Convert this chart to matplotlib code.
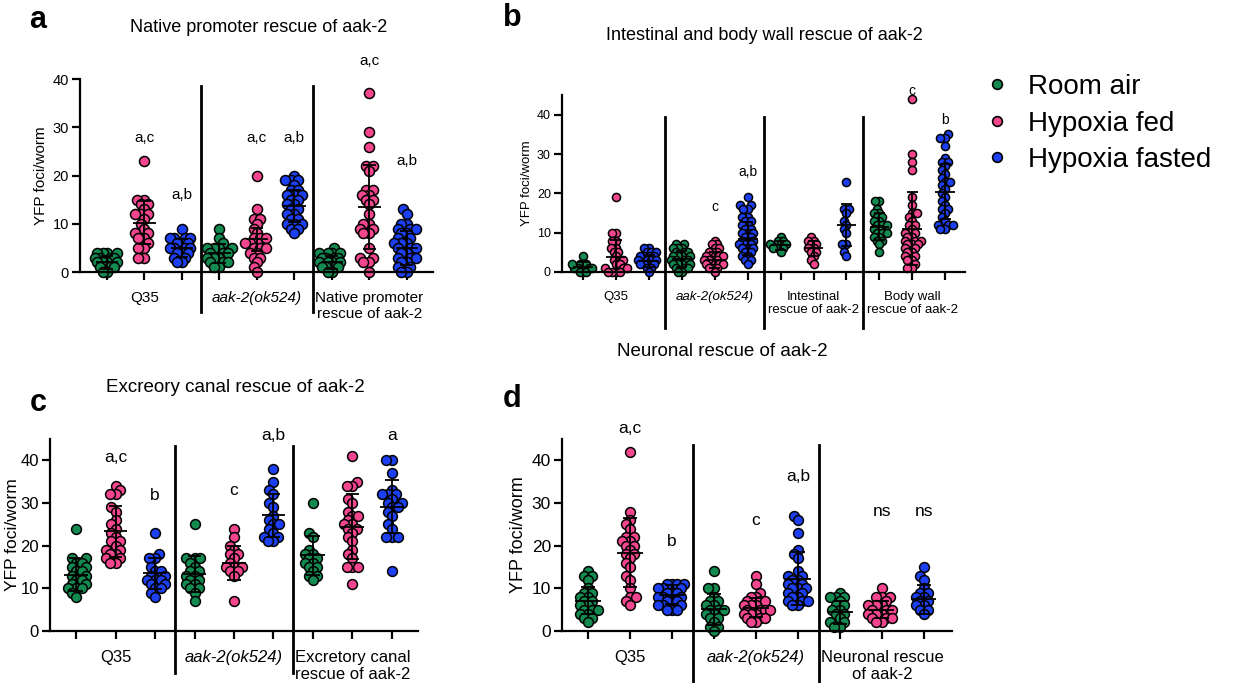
import numpy as np
import matplotlib
matplotlib.use("Agg")
import matplotlib.pyplot as plt
from matplotlib.lines import Line2D

plt.rcParams["font.family"] = ["Liberation Sans", "DejaVu Sans"]

GREEN, PINK, BLUE = "#128a50", "#f4468f", "#1c3ff2"
CONDITIONS = ["Room air", "Hypoxia fed", "Hypoxia fasted"]

# ── Panel a: native promoter rescue ───────────────────────────────────────────
A_TITLE = "Native promoter rescue of aak-2"
A_STRAINS = ["Q35", "aak-2(ok524)", "Native promoter\nrescue of aak-2"]
A_ROOM = [
    [4, 4, 4, 4, 3, 3, 3, 3, 2, 2, 2, 2, 1, 1, 1, 0, 0],
    [9, 7, 6, 5, 5, 5, 5, 4, 4, 4, 3, 3, 3, 2, 2, 1, 1, 2],
    [5, 4, 4, 4, 4, 3, 3, 3, 3, 2, 2, 2, 2, 1, 1, 1, 1, 0, 0],
]
A_FED = [
    [23, 15, 15, 14, 14, 13, 12, 12, 12, 11, 10, 9, 8, 8, 7, 7, 6, 5, 5, 3, 3],
    [20, 13, 11, 11, 10, 9, 8, 7, 7, 7, 6, 6, 6, 5, 5, 5, 4, 4, 3, 3, 2, 1, 0],
    [37, 29, 26, 22, 22, 21, 17, 17, 16, 16, 15, 15, 14, 12, 10, 10, 9, 9, 8, 8, 5, 3, 3, 2, 2, 0],
]
A_FASTED = [
    [9, 7, 7, 7, 7, 6, 6, 6, 5, 5, 5, 5, 4, 4, 4, 3, 3, 2, 2],
    [20, 19, 19, 19, 18, 17, 17, 16, 16, 16, 15, 15, 14, 14, 13, 13, 12, 12, 11, 11, 10, 10, 10, 9, 9, 8],
    [13, 12, 10, 10, 9, 9, 9, 8, 8, 7, 7, 6, 6, 6, 5, 5, 5, 4, 4, 3, 3, 3, 2, 2, 1, 1, 0, 0],
]
A_MEAN = [2.0, 10.2, 5.0, 3.9, 6.8, 13.7, 2.0, 13.5, 5.0]
A_SD = [1.3, 4.5, 1.8, 2.0, 2.4, 3.3, 1.3, 8.7, 3.5]
A_LETTERS = ["", "a,c", "a,b", "", "a,c", "a,b", "", "a,c", "a,b"]

# ── Panel b: intestinal and body wall rescue ──────────────────────────────────
B_TITLE = "Intestinal and body wall rescue of aak-2"
B_STRAINS = ["Q35", "aak-2(ok524)", "Intestinal\nrescue of aak-2", "Body wall\nrescue of aak-2"]
B_ROOM = [
    [4, 2, 2, 2, 1, 1, 1, 0, 0, 0, 1, 2],
    [7, 7, 6, 6, 6, 5, 5, 5, 4, 4, 4, 4, 3, 3, 3, 3, 2, 2, 2, 2, 1, 1, 1, 0, 0],
    [9, 8, 8, 7, 7, 7, 6, 6, 6, 5],
    [18, 18, 16, 15, 15, 14, 14, 13, 13, 12, 12, 12, 11, 11, 10, 10, 10, 9, 9, 8, 8, 7, 5],
]
B_FED = [
    [19, 10, 10, 8, 8, 6, 6, 5, 5, 4, 3, 3, 2, 2, 1, 1, 0, 0, 0, 0, 1],
    [8, 7, 7, 6, 6, 5, 5, 5, 4, 4, 4, 4, 3, 3, 3, 3, 2, 2, 2, 2, 1, 1, 1, 0],
    [9, 8, 8, 7, 7, 6, 6, 5, 5, 4, 3, 2],
    [44, 30, 28, 26, 19, 17, 15, 15, 14, 13, 12, 12, 11, 10, 10, 9, 9, 8, 8, 8, 7, 7, 7,
     6, 6, 5, 5, 4, 4, 3, 3, 2, 1, 1],
]
B_FASTED = [
    [6, 6, 5, 5, 5, 4, 4, 4, 4, 3, 3, 3, 3, 2, 2, 2, 2, 1, 1, 0],
    [19, 17, 17, 16, 16, 14, 14, 13, 13, 12, 12, 11, 11, 10, 10, 10, 9, 9, 8, 8, 8, 7, 7, 7,
     6, 6, 6, 5, 5, 4, 4, 3, 3, 2],
    [23, 16, 16, 15, 13, 12, 11, 10, 7, 7, 5, 4],
    [35, 34, 34, 32, 29, 28, 28, 27, 26, 25, 24, 23, 23, 22, 21, 20, 19, 18, 17, 16, 16, 15,
     14, 13, 12, 12, 12, 11, 11],
]
B_MEAN = [1.3, 3.8, 2.8, 3.3, 3.1, 8.5, 6.8, 6.0, 11.9, 11.5, 11.0, 20.4]
B_SD = [1.2, 4.3, 1.6, 2.0, 2.0, 4.2, 1.1, 2.0, 5.4, 3.4, 9.3, 7.0]
B_LETTERS = ["", "", "", "", "c", "a,b", "", "", "", "", "c", "b"]

# ── Panel c: excretory canal rescue ───────────────────────────────────────────
C_TITLE = "Excreory canal rescue of aak-2"
C_STRAINS = ["Q35", "aak-2(ok524)", "Excretory canal\nrescue of aak-2"]
C_ROOM = [
    [24, 17, 17, 16, 16, 15, 15, 14, 14, 13, 13, 12, 12, 11, 11, 10, 10, 10, 9, 8],
    [25, 17, 17, 17, 16, 15, 14, 14, 13, 13, 12, 12, 11, 11, 10, 10, 9, 7],
    [30, 23, 22, 19, 18, 18, 17, 17, 16, 16, 15, 15, 14, 13, 13, 12],
]
C_FED = [
    [34, 33, 32, 32, 29, 28, 26, 25, 24, 23, 22, 21, 21, 20, 19, 19, 18, 18, 17, 17, 16, 16],
    [24, 22, 20, 19, 18, 18, 17, 16, 15, 15, 15, 14, 14, 13, 7],
    [41, 35, 34, 34, 31, 30, 28, 27, 27, 26, 25, 25, 24, 24, 23, 22, 21, 19, 18, 17, 15, 15, 15, 11],
]
C_FASTED = [
    [23, 18, 17, 17, 15, 14, 14, 13, 13, 12, 12, 12, 11, 11, 10, 10, 9, 8],
    [38, 35, 33, 32, 30, 29, 27, 26, 25, 25, 24, 23, 22, 22, 21, 21],
    [40, 40, 37, 33, 32, 32, 32, 31, 30, 30, 29, 29, 28, 27, 25, 24, 22, 22, 22, 14],
]
C_MEAN = [13.2, 23.4, 13.5, 13.3, 16.0, 27.1, 17.7, 24.4, 29.1]
C_SD = [3.9, 6.0, 3.6, 4.2, 4.0, 5.0, 4.5, 7.6, 6.2]
C_LETTERS = ["", "a,c", "b", "", "c", "a,b", "", "", "a"]

# ── Panel d: neuronal rescue ──────────────────────────────────────────────────
D_TITLE = "Neuronal rescue of aak-2"
D_STRAINS = ["Q35", "aak-2(ok524)", "Neuronal rescue\nof aak-2"]
D_ROOM = [
    [14, 13, 13, 12, 10, 9, 9, 8, 8, 7, 7, 6, 6, 5, 5, 5, 4, 4, 3, 3, 2],
    [14, 10, 10, 8, 7, 7, 6, 6, 5, 5, 5, 4, 4, 3, 3, 2, 1, 1, 0],
    [9, 8, 8, 8, 7, 6, 6, 5, 5, 4, 4, 3, 2, 2, 1, 1],
]
D_FED = [
    [42, 28, 26, 25, 24, 22, 22, 21, 21, 20, 20, 19, 18, 18, 17, 16, 15, 13, 12, 10, 8, 8, 7, 6],
    [13, 11, 9, 8, 8, 7, 7, 7, 6, 6, 6, 5, 5, 5, 5, 4, 4, 4, 3, 3, 3, 2, 2],
    [10, 8, 8, 8, 7, 6, 6, 6, 5, 5, 5, 4, 4, 4, 3, 3, 3, 2, 2],
]
D_FASTED = [
    [11, 11, 11, 11, 10, 10, 10, 9, 9, 9, 8, 8, 8, 7, 7, 7, 6, 6, 6, 5, 5, 5],
    [27, 26, 23, 19, 18, 17, 14, 13, 13, 12, 12, 11, 11, 10, 10, 10, 9, 9, 8, 8, 7, 7, 7, 6, 6],
    [15, 13, 12, 10, 9, 9, 8, 8, 7, 7, 6, 6, 5, 5, 4],
]
D_MEAN = [7.1, 18.3, 8.5, 5.1, 5.5, 12.3, 4.4, 5.0, 7.4]
D_SD = [3.2, 8.1, 2.2, 3.6, 2.3, 6.3, 2.7, 2.0, 3.4]
D_LETTERS = ["", "a,c", "b", "", "c", "a,b", "", "ns", "ns"]

# ── layout (pixels of a 1237x683 canvas) ──────────────────────────────────────
W, H = 1237, 683
LAYOUT = {
    "a": dict(box=(80, 79, 433, 272), xlim=(-0.72, 8.7), ylim=(0, 40), yticks=[0, 10, 20, 30, 40],
              sep=(38.5, -8.3), ms=52, fs=11, yfs=11, lfs=11, lpad=3,
              let_y=[0, 27.7, 16, 0, 27.7, 27.7, 0, 43.7, 23],
              title=(259, 27, 13), tag=(38, 20)),
    "b": dict(box=(562, 95, 965, 272), xlim=(-0.64, 11.6), ylim=(0, 45), yticks=[0, 10, 20, 30, 40],
              sep=(39.4, -14.2), ms=34, fs=9.5, yfs=9.5, lfs=10, lpad=3,
              let_y=[0, 0, 0, 0, 16.6, 25.5, 0, 0, 0, 0, 45.9, 38.7],
              title=(764, 35, 13), tag=(512, 18)),
    "c": dict(box=(50, 439, 418, 631), xlim=(-0.66, 8.66), ylim=(0, 45), yticks=[0, 10, 20, 30, 40],
              sep=(43.3, -9.8), ms=50, fs=12, yfs=12.5, lfs=12.5, lpad=0,
              let_y=[0, 40.7, 31.8, 0, 33, 45.8, 0, 0, 45.8],
              title=(235, 387, 13.5), tag=(38, 403)),
    "d": dict(box=(562, 439, 952, 631), xlim=(-0.62, 8.67), ylim=(0, 45), yticks=[0, 10, 20, 30, 40],
              sep=(43.7, -12.5), ms=50, fs=12, yfs=13, lfs=12.5, lpad=3,
              let_y=[0, 47.5, 20.9, 0, 25.8, 36.3, 0, 27.9, 27.9],
              title=(722, 352, 13.5), tag=(512, 399)),
}
HALF_WIDTH = 0.33   # widest a swarm may spread, in group units


def swarm_offsets(ax, x0, vals, diam_px):
    """beeswarm placement in pixel space, returned as x data positions"""
    tr = ax.transData
    px_per_x = tr.transform((1, 0))[0] - tr.transform((0, 0))[0]
    ys = tr.transform(np.column_stack([np.full(len(vals), x0), vals]))[:, 1]
    placed, offs = [], np.zeros(len(vals))
    for i in np.argsort(ys, kind="stable"):
        y = ys[i]
        near = [(px, py) for px, py in placed if abs(py - y) < diam_px]
        cands = [0.0]
        for px, py in near:
            dx = np.sqrt(diam_px ** 2 - (py - y) ** 2)
            cands += [px - dx, px + dx]
        cands.sort(key=abs)
        pick = cands[-1]
        for c in cands:
            if all((c - px) ** 2 + (y - py) ** 2 >= diam_px ** 2 - 1e-6 for px, py in near):
                pick = c
                break
        placed.append((pick, y))
        offs[i] = pick / px_per_x
    widest = np.abs(offs).max()
    if widest > HALF_WIDTH:
        offs *= HALF_WIDTH / widest
    return x0 + offs


def draw_panel(fig, key, title, strains, room, fed, fasted, mean, sd, letters):
    L = LAYOUT[key]
    x0, y0, x1, y1 = L["box"]
    ax = fig.add_axes([x0 / W, 1 - y1 / H, (x1 - x0) / W, (y1 - y0) / H])
    ax.set_xlim(*L["xlim"])
    ax.set_ylim(*L["ylim"])
    for s in ("top", "right"):
        ax.spines[s].set_visible(False)
    for s in ("left", "bottom"):
        ax.spines[s].set_linewidth(1.6)

    groups, colors = [], []
    for k in range(len(strains)):
        groups += [room[k], fed[k], fasted[k]]
        colors += [GREEN, PINK, BLUE]
    pos = np.arange(len(groups))

    diam = np.sqrt(L["ms"]) * 100 / 72 * 0.6
    for p, vals, col in zip(pos, groups, colors):
        xs = swarm_offsets(ax, p, vals, diam)
        ax.scatter(xs, vals, s=L["ms"], c=col, edgecolors="black", linewidths=1.1,
                   zorder=2, clip_on=False)

    for p, m, e in zip(pos, mean, sd):
        ax.hlines(m, p - 0.3, p + 0.3, color="black", lw=1.3, zorder=3)
        ax.vlines(p, m - e, m + e, color="black", lw=1.3, zorder=3)
        ax.hlines([m - e, m + e], p - 0.17, p + 0.17, color="black", lw=1.3, zorder=3)

    for p, t, ly in zip(pos, letters, L["let_y"]):
        if t:
            ax.text(p, ly, t, ha="center", va="center", fontsize=L["lfs"], clip_on=False)

    top, bot = L["sep"]
    for k in range(1, len(strains)):
        sx = 3 * k - 0.5
        ax.plot([sx, sx], [top, bot], color="black", lw=2, clip_on=False, zorder=4)

    ax.set_xticks(pos)
    labels = []
    for k in range(len(strains)):
        labels += ["", strains[k], ""]
    ax.set_xticklabels(labels, fontsize=L["fs"], linespacing=1.1)
    for lab in ax.get_xticklabels():
        if lab.get_text().startswith("aak-2("):
            lab.set_fontstyle("italic")
    ax.tick_params(axis="x", length=6, width=1.6, pad=8)
    ax.set_yticks(L["yticks"])
    ax.tick_params(axis="y", length=6, width=1.6, labelsize=L["yfs"] - 0.5, pad=2)
    ax.set_ylabel("YFP foci/worm", fontsize=L["yfs"], labelpad=L["lpad"])

    tx, ty, tfs = L["title"]
    fig.text(tx / W, 1 - ty / H, title, ha="center", va="center", fontsize=tfs)
    gx, gy = L["tag"]
    fig.text(gx / W, 1 - gy / H, key, ha="center", va="center", fontsize=22, fontweight="bold")
    return ax


fig = plt.figure(figsize=(W / 100, H / 100), dpi=100)
fig.patch.set_facecolor("white")

draw_panel(fig, "a", A_TITLE, A_STRAINS, A_ROOM, A_FED, A_FASTED, A_MEAN, A_SD, A_LETTERS)
draw_panel(fig, "b", B_TITLE, B_STRAINS, B_ROOM, B_FED, B_FASTED, B_MEAN, B_SD, B_LETTERS)
draw_panel(fig, "c", C_TITLE, C_STRAINS, C_ROOM, C_FED, C_FASTED, C_MEAN, C_SD, C_LETTERS)
draw_panel(fig, "d", D_TITLE, D_STRAINS, D_ROOM, D_FED, D_FASTED, D_MEAN, D_SD, D_LETTERS)

handles = [Line2D([], [], ls="", marker="o", markersize=7, markerfacecolor=c,
                  markeredgecolor="black", markeredgewidth=1.2) for c in (GREEN, PINK, BLUE)]
fig.legend(handles, CONDITIONS, loc="upper left", bbox_to_anchor=(986 / W, 1 - 74 / H),
           frameon=False, fontsize=20, handlelength=0.8, handletextpad=0.7,
           labelspacing=0.38, borderpad=0, borderaxespad=0)

fig.savefig("out.png", dpi=100, facecolor="white")
